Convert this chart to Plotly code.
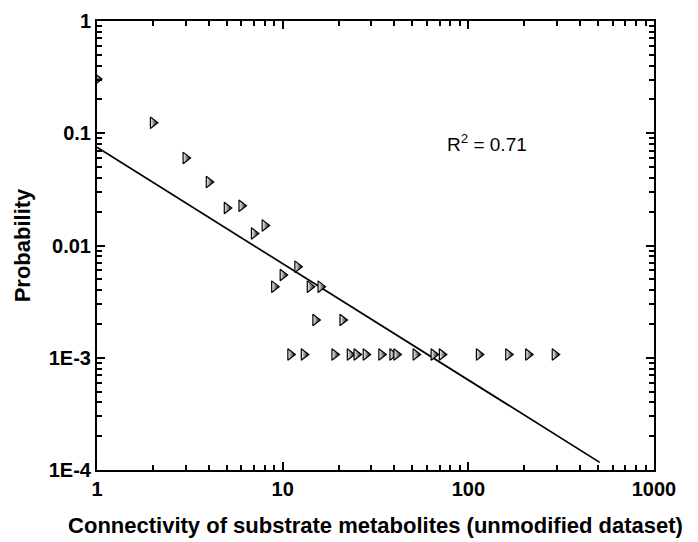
import plotly.graph_objects as go

# Degree (connectivity) values and their probabilities
connectivity = [1, 2, 3, 4, 5, 6, 7, 8, 9, 10, 12, 14, 15, 16, 21,
                11, 13, 19, 23, 25, 28, 34, 39, 41, 52, 65, 72, 114, 164, 210, 292]
probability = [0.304, 0.124, 0.0603, 0.0368, 0.0216, 0.0226, 0.0128, 0.0151,
               0.0043, 0.00546, 0.00648, 0.0043, 0.00217, 0.0043, 0.00217,
               0.00107, 0.00107, 0.00107, 0.00107, 0.00107, 0.00107, 0.00107,
               0.00107, 0.00107, 0.00107, 0.00107, 0.00107, 0.00107, 0.00107,
               0.00107, 0.00107]

# Power-law fit line end points
fit_x = [1, 510]
fit_y = [0.075, 1.17e-4]

x_tickvals = [1, 10, 100, 1000]
x_ticktext = ["1", "10", "100", "1000"]
y_tickvals = [1, 0.1, 0.01, 0.001, 0.0001]
y_ticktext = ["1", "0.1", "0.01", "1E-3", "1E-4"]

r2_text = "R<sup>2</sup> = 0.71"

FONT = "Liberation Sans, Arial, Helvetica, sans-serif"

fig = go.Figure()
fig.add_trace(go.Scatter(
    x=fit_x, y=fit_y, mode="lines",
    line=dict(color="black", width=1.7),
    hoverinfo="skip", showlegend=False,
))
fig.add_trace(go.Scatter(
    x=connectivity, y=probability, mode="markers",
    marker=dict(symbol="triangle-right", size=10, color="white",
                gradient=dict(type="horizontal", color="black"),
                line=dict(color="black", width=1.2)),
    showlegend=False,
))

fig.add_annotation(
    x=1.874, y=-1.087, xref="x", yref="y", xanchor="left", yanchor="middle",
    text=r2_text, showarrow=False,
    font=dict(family=FONT, size=19, color="black"),
)

axis_common = dict(
    type="log", showgrid=False, zeroline=False,
    showline=True, linecolor="black", linewidth=2, mirror="ticks",
    ticks="inside", ticklen=8, tickwidth=1.5, tickcolor="black",
    tickfont=dict(family=FONT, size=20, color="black", weight="bold"),
    minor=dict(ticks="inside", ticklen=5, tickwidth=1.5, tickcolor="black",
               dtick="D1", showgrid=False),
)

fig.update_xaxes(
    **axis_common, range=[0, 3],
    tickmode="array", tickvals=x_tickvals, ticktext=x_ticktext,
    title=dict(text="Connectivity of substrate metabolites (unmodified dataset)",
               font=dict(family=FONT, size=22, color="black", weight="bold"),
               standoff=19),
)
fig.update_yaxes(
    **axis_common, range=[-4, 0],
    tickmode="array", tickvals=y_tickvals, ticktext=y_ticktext,
    title=dict(text="Probability",
               font=dict(family=FONT, size=22, color="black", weight="bold"),
               standoff=12),
)

fig.update_layout(
    width=690, height=534,
    margin=dict(l=89, r=44, t=13, b=72, autoexpand=False),
    paper_bgcolor="white", plot_bgcolor="white",
    font=dict(family=FONT, color="black"),
)

fig.write_html("out.html")
